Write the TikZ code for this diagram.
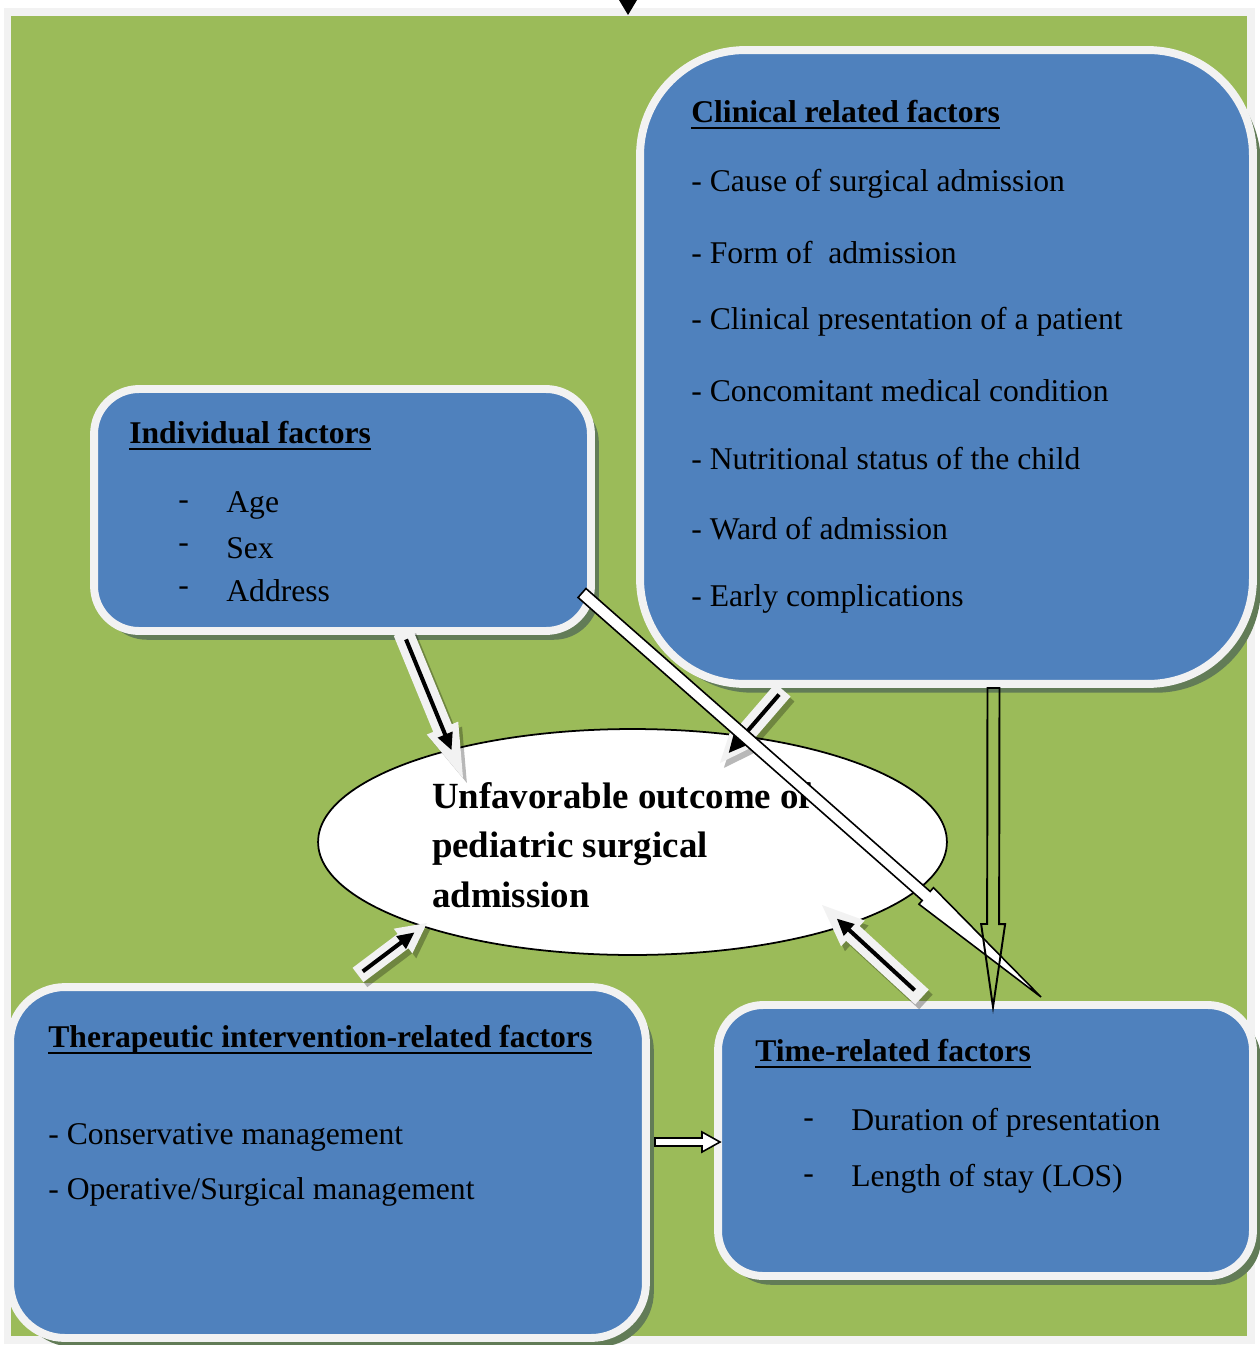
\documentclass[tikz,border=0pt]{standalone}
\usepackage{fontspec}
\setmainfont{Liberation Serif}
\usetikzlibrary{calc, shapes.geometric, arrows.meta, shadows}
\definecolor{bggreen}{HTML}{9BBB59}
\definecolor{boxblue}{HTML}{4F81BD}
\definecolor{rimgray}{HTML}{F2F2F2}
\definecolor{shadegreen}{HTML}{627C57}

% underlined heading text
\newcommand{\uln}[1]{\setbox0\hbox{#1}\rlap{\rule[-3.6pt]{\wd0}{1.1pt}}\box0}
% block arrow: [style]{from}{tip}{half shaft}{half head}{head length}
\newcommand{\blockarrow}[6][]{%
  \coordinate (ba-h) at ($(#3)!#6!(#2)$);
  \path[#1] ($(#2)!#4!90:(#3)$) -- ($(ba-h)!#4!90:(#3)$) -- ($(ba-h)!#5!90:(#3)$) -- (#3)
    -- ($(ba-h)!#5!-90:(#3)$) -- ($(ba-h)!#4!-90:(#3)$) -- ($(#2)!#4!-90:(#3)$) -- cycle;}

\begin{document}
\begin{tikzpicture}[x=0.02cm, y=-0.02cm,
    box/.style={draw=rimgray, line width=4.5pt, fill=boxblue, inner sep=0pt,
      drop shadow={shadow xshift=4.5pt, shadow yshift=-5pt, fill=shadegreen, opacity=1}},
    txt/.style={anchor=west, inner sep=0pt, yshift=-1.7pt, font=\fontsize{18}{22}\selectfont},
    head/.style={txt, font=\fontsize{18}{22}\selectfont\bfseries},
    inarrow/.style={line width=2.3pt, -{Triangle[length=0.34cm, width=0.3cm]}},
    openarrow/.style={draw=black, line width=0.9pt, fill=white}]
  \useasboundingbox (0,0) rectangle (1259,1345);
  \draw[rimgray, line width=4.5pt, fill=bggreen] (7.5,12) rectangle (1251,1340);

  % boxes
  \node[box, minimum width=12.26cm, minimum height=12.68cm, rounded corners=2.1cm] (clinical) at (946.5,367) {};
  \node[box, minimum width=9.94cm, minimum height=4.84cm, rounded corners=0.9cm] (indiv) at (342.5,510) {};
  \node[box, minimum width=12.72cm, minimum height=7.02cm, rounded corners=1.1cm] (thera) at (328,1162.5) {};
  \node[box, minimum width=10.7cm, minimum height=5.42cm, rounded corners=0.9cm] (timef) at (985.5,1140.5) {};

  % clinical related factors
  \node[head] (clin-h) at (691,112) {\uln{Clinical related factors}};
  \node[txt] (clin-1) at (691,181) {- Cause of surgical admission};
  \node[txt] (clin-2) at (691,250) {- Form of~ admission};
  \node[txt] (clin-3) at (691,319) {- Clinical presentation of a patient};
  \node[txt] (clin-4) at (691,388) {- Concomitant medical condition};
  \node[txt] (clin-5) at (691,456) {- Nutritional status of the child};
  \node[txt] (clin-6) at (691,526) {- Ward of admission};
  \node[txt] (clin-7) at (691,596) {- Early complications};

  % individual factors
  \node[head] (ind-h) at (129,433) {\uln{Individual factors}};
  \node[txt] (age-d) at (178,502) {-};
  \node[txt] (age) at (226,502) {Age};
  \node[txt] (sex-d) at (178,545) {-};
  \node[txt] (sex) at (226,545) {Sex};
  \node[txt] (addr-d) at (178,588) {-};
  \node[txt] (addr) at (226,588) {Address};

  % therapeutic intervention
  \node[head] (thera-h) at (48,1037) {\uln{Therapeutic intervention-related factors}};
  \node[txt] (thera-1) at (48,1134) {- Conservative management};
  \node[txt] (thera-2) at (48,1189) {- Operative/Surgical management};

  % time related
  \node[head] (time-h) at (755,1051) {\uln{Time-related factors}};
  \node[txt] (dur-d) at (803,1120) {-};
  \node[txt] (dur) at (851,1120) {Duration of presentation};
  \node[txt] (los-d) at (803,1176) {-};
  \node[txt] (los) at (851,1176) {Length of stay (LOS)};

  % outcome
  \node[ellipse, draw, line width=1pt, fill=white, minimum width=12.58cm, minimum height=4.52cm,
    inner sep=0pt, label={[inner sep=0pt, yshift=-1.7pt, align=flush left, text width=8.02cm,
      font=\fontsize{21}{28}\selectfont\bfseries]center:{Unfavorable outcome of\\pediatric surgical\\admission}}]
    (outcome) at (632.5,842) {};

  \coordinate (ind-a) at (403,632);
  \coordinate (ind-b) at (463,778);
  \coordinate (clin-a) at (783,690);
  \coordinate (clin-b) at (720,763);
  \coordinate (thera-a) at (358,975);
  \coordinate (thera-b) at (427,923);
  \coordinate (time-a) at (922,997);
  \coordinate (time-b) at (822,905);
  \coordinate (long-a) at (582,593);
  \coordinate (long-b) at (1041,997);
  \coordinate (down-a) at (993.5,688);
  \coordinate (down-b) at (993,1007);
  \coordinate (side-a) at (655,1142);
  \coordinate (side-b) at (720,1142);

  % gray arrows into the outcome
  \begin{scope}[transform canvas={xshift=2.2pt, yshift=-2.8pt}]
    \blockarrow[fill=black, opacity=.28]{ind-a}{ind-b}{0.2cm}{0.34cm}{1.08cm}
    \blockarrow[fill=black, opacity=.28]{clin-a}{clin-b}{0.2cm}{0.34cm}{0.8cm}
    \blockarrow[fill=black, opacity=.28]{thera-a}{thera-b}{0.18cm}{0.31cm}{0.6cm}
    \blockarrow[fill=black, opacity=.28]{time-a}{time-b}{0.2cm}{0.35cm}{0.84cm}
  \end{scope}
  \blockarrow[fill=rimgray]{ind-a}{ind-b}{0.2cm}{0.34cm}{1.08cm}
  \blockarrow[fill=rimgray]{clin-a}{clin-b}{0.2cm}{0.34cm}{0.8cm}
  \blockarrow[fill=rimgray]{thera-a}{thera-b}{0.18cm}{0.31cm}{0.6cm}
  \blockarrow[fill=rimgray]{time-a}{time-b}{0.2cm}{0.35cm}{0.84cm}
  \draw[inarrow, shorten <=0.16cm, shorten >=0.6cm] (ind-a) -- (ind-b);
  \draw[inarrow, shorten <=0.12cm, shorten >=0.26cm] (clin-a) -- (clin-b);
  \draw[inarrow, shorten <=0.12cm, shorten >=0.31cm] (thera-a) -- (thera-b);
  \draw[inarrow, shorten <=0.2cm, shorten >=0.4cm] (time-a) -- (time-b);

  % open arrows
  \blockarrow[openarrow]{long-a}{long-b}{0.12cm}{0.22cm}{3.06cm}
  \blockarrow[draw, line width=1.1pt]{down-a}{down-b}{0.12cm}{0.24cm}{1.66cm}
  \blockarrow[openarrow]{side-a}{side-b}{0.08cm}{0.2cm}{0.36cm}
  \fill (619,0) -- (637,0) -- (628,15) -- cycle;
\end{tikzpicture}
\end{document}
